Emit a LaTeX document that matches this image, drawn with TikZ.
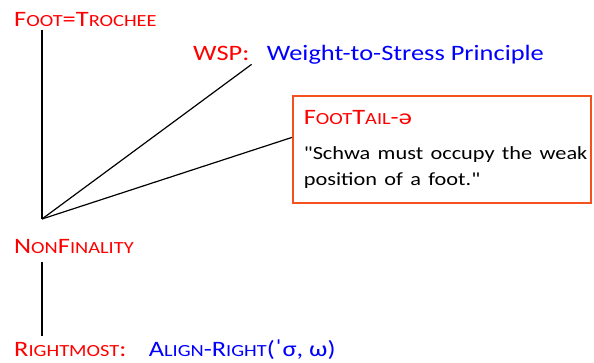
\documentclass[tikz,border=0pt]{standalone}
\usepackage{fontspec}
\setmainfont{Carlito}[FakeStretch=1.2, Ligatures=TeXOff]
\usetikzlibrary{positioning,calc}
\definecolor{conred}{HTML}{FF0000}
\definecolor{conblue}{HTML}{0000FF}
\definecolor{boxline}{HTML}{F4511E}
% fake small caps: capitals at a smaller size
\newcommand{\fsc}[1]{{\fontsize{17}{20}\selectfont #1}}

\begin{document}
\begin{tikzpicture}[x=1pt, y=-1pt, font=\fontsize{22}{26}\selectfont,
      c/.style={text=conred, inner sep=0pt, anchor=base west},
      d/.style={text=conblue, inner sep=0pt, anchor=base west},
      ln/.style={line width=1.2pt}]
    \useasboundingbox (0,0) rectangle (594,362);
    \node[c] (foot) at (14,26) {F\fsc{OOT}=T\fsc{ROCHEE}};
    \node[c] (wsp) at (193,60) {WSP:};
    \node[d, right=17pt of wsp.base east, anchor=base west] (wspdef) {Weight-to-Stress Principle};
    \node[draw=boxline, line width=1.6pt, anchor=north west, align=left, text width=276pt,
          inner xsep=11pt, inner ysep=14.5pt] (ft) at (292,95)
         {{\color{conred}F\fsc{OOT}T\fsc{AIL}-ə}\\[9pt]
          \fontsize{18.6}{26}\selectfont
          \mbox{"Schwa must occupy the weak}\\position of a foot."};
    \node[c] (nonfin) at (14,253) {N\fsc{ON}F\fsc{INALITY}};
    \node[c] (rm) at (14,356) {R\fsc{IGHTMOST}:};
    \node[d, right=22pt of rm.base east, anchor=base west] (algn) {A\fsc{LIGN}-R\fsc{IGHT}(ˈσ, ω)};
    \coordinate (j) at (42,219);
    \draw[ln] ($(j |- foot.south)+(0,4)$) -- (j);
    \draw[ln] (j) -- ($(wsp.south east)+(2,4)$);
    \draw[ln] (j) -- ($(ft.north west)!0.39!(ft.south west)$);
    \draw[ln] ($(j |- nonfin.south)+(0,9)$) -- ($(j |- rm.north)+(0,-6)$);
\end{tikzpicture}
\end{document}
